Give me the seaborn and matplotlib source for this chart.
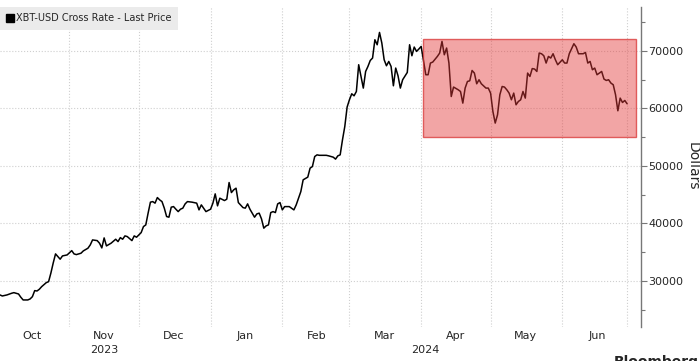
import pandas as pd
import matplotlib
matplotlib.use("Agg")
import matplotlib.pyplot as plt
import matplotlib.dates as mdates
from matplotlib.patches import Rectangle
from matplotlib.lines import Line2D
from matplotlib.ticker import FixedLocator, MultipleLocator, NullFormatter
from matplotlib.transforms import blended_transform_factory
import seaborn as sns

# price series (days counted from 2023-10-01)
start_date = "2023-10-01"
day_offsets = [
    1, 2, 4, 6, 7, 9, 10, 11, 13, 14, 15, 16, 17, 18, 19, 21, 22, 23, 24, 25,
    26, 27, 28, 30, 32, 33, 34, 36, 37, 39, 40, 41, 43, 44, 45, 46, 47, 49, 51, 52,
    53, 54, 55, 56, 58, 59, 60, 62, 63, 64, 65, 66, 67, 68, 69, 70, 71, 72, 73, 74,
    75, 76, 77, 78, 79, 80, 81, 82, 84, 86, 87, 88, 89, 90, 92, 93, 94, 95, 96, 98,
    99, 100, 101, 102, 103, 104, 106, 107, 108, 109, 111, 112, 113, 114, 115, 116, 117, 118, 119, 120,
    121, 122, 123, 124, 126, 128, 129, 130, 131, 132, 134, 135, 136, 137, 138, 139, 142, 143, 145, 146,
    147, 148, 149, 150, 151, 152, 153, 154, 155, 156, 157, 158, 159, 160, 161, 162, 163, 164, 165, 166,
    167, 168, 169, 170, 171, 172, 173, 174, 175, 177, 178, 179, 180, 181, 182, 183, 185, 186, 187, 188,
    190, 191, 192, 193, 194, 195, 196, 197, 199, 200, 201, 202, 203, 204, 205, 206, 207, 208, 209, 211,
    212, 213, 214, 215, 216, 217, 218, 219, 220, 221, 222, 223, 224, 225, 226, 227, 228, 229, 230, 231,
    232, 233, 234, 235, 236, 237, 238, 239, 240, 241, 242, 244, 245, 246, 247, 249, 250, 251, 253, 254,
    255, 256, 257, 258, 259, 260, 261, 262, 263, 264, 265, 266, 267, 268, 269, 270, 271, 272,
]
prices = [
    27570, 27390, 27570, 27860, 27970, 27740, 27170, 26700, 26700, 26870, 27270, 28320, 28260, 28560, 29010, 29710, 29880, 31390, 33130, 34700,
    34230, 33780, 34350, 34520, 35270, 34700, 34580, 34820, 35220, 35690, 36260, 37130, 37010, 36560, 35740, 37480, 36090, 36560, 37250, 36840,
    37530, 37250, 37830, 37710, 37010, 37830, 37600, 38400, 39450, 39740, 41780, 43690, 43790, 43520, 44490, 44090, 43790, 42650, 41190, 41080,
    42820, 42920, 42470, 42050, 42470, 42650, 43390, 43790, 43690, 43520, 42350, 43220, 42650, 42050, 42470, 43520, 45130, 43050, 44380, 43970,
    44210, 47100, 45360, 45830, 46120, 43620, 42750, 42650, 43390, 42470, 41080, 41650, 41780, 40790, 39170, 39570, 39740, 41880, 42050, 41880,
    43390, 43620, 42350, 42920, 42920, 42350, 43220, 44380, 45530, 47570, 48040, 49600, 49880, 51620, 51910, 51830, 51830, 51740, 51510, 51170,
    51740, 51910, 54520, 56840, 60210, 61480, 62520, 62170, 62920, 67570, 65530, 63510, 66400, 67270, 68310, 68730, 71910, 71040, 73180, 71340,
    68440, 67390, 68140, 67270, 63910, 66990, 65650, 63510, 64960, 66230, 71040, 69130, 70640, 69880, 70300, 70750, 65830, 65830, 67860, 68030,
    69010, 69600, 71620, 69300, 70470, 67860, 62050, 63690, 63220, 62920, 60900, 63510, 64660, 64780, 66570, 66120, 64260, 64960, 64260, 63510,
    63510, 62640, 59440, 57430, 58870, 62350, 63790, 63690, 63220, 62640, 61480, 62640, 60610, 61180, 61480, 62920, 61770, 66120, 65530, 66900,
    66820, 66400, 69600, 69480, 69130, 67860, 69010, 68730, 69480, 68430, 67570, 68430, 67860, 67860, 69480, 71220, 70640, 69480, 69480, 69700,
    67860, 68140, 66700, 66990, 65830, 66120, 66400, 65080, 64840, 64960, 64380, 64090, 62350, 59570, 61770, 61010, 61360, 60780,
]

series_name = "XBT-USD Cross Rate - Last Price"
y_ticks = [30000, 40000, 50000, 60000, 70000]

# highlighted trading range
range_start = "2024-04-02"
range_end = "2024-07-03"
range_low = 55000
range_high = 72000

year_labels = ["2023", "2024"]
year_label_dates = ["2023-11-16", "2024-04-03"]

df = pd.DataFrame({
    "date": pd.Timestamp(start_date) + pd.to_timedelta(day_offsets, unit="D"),
    "price": prices,
})

sns.set_style("white")
plt.rcParams["font.family"] = ["DejaVu Sans"]

fig = plt.figure(figsize=(7, 3.61), dpi=100)
ax = fig.add_axes([0, 34 / 361, 641 / 700, 320 / 361])

sns.lineplot(data=df, x="date", y="price", color="black", linewidth=1.1, ax=ax, legend=False, zorder=2)

# red box over the sideways range
x0 = mdates.date2num(pd.Timestamp(range_start))
x1 = mdates.date2num(pd.Timestamp(range_end))
ax.add_patch(Rectangle((x0, range_low), x1 - x0, range_high - range_low,
                       facecolor=(0.89, 0.22, 0.22, 0.45), edgecolor=(0.85, 0.2, 0.2, 0.75),
                       linewidth=1, zorder=3))

ax.set_xlim(pd.Timestamp("2023-10-02"), pd.Timestamp("2024-07-05"))
ax.set_ylim(22000, 77600)
ax.set_xlabel("")
ax.set_ylabel("")

# y axis on the right
ax.yaxis.tick_right()
ax.set_yticks(y_ticks)
ax.yaxis.set_minor_locator(MultipleLocator(5000))
ax.tick_params(axis="y", which="major", length=4, width=0.8, color="#777777", labelsize=8, pad=1, right=True, left=False)
ax.tick_params(axis="y", which="minor", length=3, width=0.8, color="#777777", right=True, left=False)

# x axis: gridlines at month starts, labels mid-month
month_starts = pd.date_range("2023-11-01", "2024-06-01", freq="MS")
ax.xaxis.set_major_locator(FixedLocator(mdates.date2num(month_starts)))
ax.xaxis.set_major_formatter(NullFormatter())
ax.xaxis.set_minor_locator(mdates.MonthLocator(bymonthday=16))
ax.xaxis.set_minor_formatter(mdates.DateFormatter("%b"))
ax.tick_params(axis="x", which="both", length=0, labelsize=8, pad=3)

ax.grid(axis="both", which="major", linestyle=":", color="#cfcfcf", linewidth=0.8)
ax.axvline(df["date"].iloc[-1], linestyle=":", color="#cfcfcf", linewidth=0.8, zorder=0)

for side in ["top", "left", "bottom"]:
    ax.spines[side].set_visible(False)
ax.spines["right"].set_color("#777777")
ax.spines["right"].set_linewidth(1)

trans = blended_transform_factory(ax.transData, ax.transAxes)
for label, d in zip(year_labels, year_label_dates):
    ax.text(pd.Timestamp(d), -0.072, label, transform=trans, ha="center", va="center", fontsize=8)

handle = Line2D([], [], marker="s", color="black", linestyle="none", markersize=5.5)
leg = ax.legend([handle], [series_name], loc="upper left", bbox_to_anchor=(0, 1), borderaxespad=0,
                frameon=True, fancybox=False, facecolor="#ebebeb", edgecolor="none", framealpha=1,
                fontsize=7, handlelength=0.7, handletextpad=0.3, borderpad=0.65)

fig.text(693 / 700, 1 - 166 / 361, "Dollars", rotation=270, ha="center", va="center", fontsize=10)
fig.text(614 / 700, 6 / 361, "Bloomberg", ha="left", va="top", fontsize=10, fontweight="bold")

fig.savefig("out.png", dpi=100)
